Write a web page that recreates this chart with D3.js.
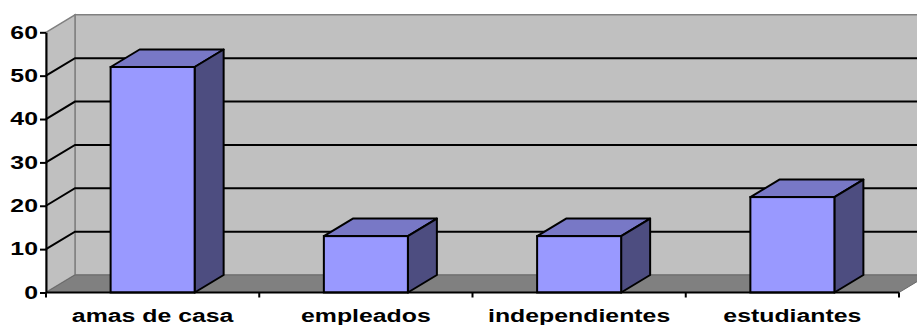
<!DOCTYPE html>
<html>
<head>
<meta charset="utf-8">
<script src="https://cdn.jsdelivr.net/npm/d3@7/dist/d3.min.js"></script>
<style>
  html, body { margin: 0; padding: 0; background: #ffffff; }
  svg { display: block; }
  text { font-family: "Liberation Sans", Arial, sans-serif; font-weight: bold; font-size: 18px; fill: #000; }
</style>
</head>
<body>
<svg id="chart" width="917" height="325"></svg>
<script>
// Ocupación de los encuestados (%)
const categories = ["amas de casa", "empleados", "independientes", "estudiantes"];
const values = [52, 13, 13, 22];
const yTicks = [0, 10, 20, 30, 40, 50, 60];

const svg = d3.select("#chart");

// Front plane of the 3-D box and the depth offset of the walls / bars
const plotLeft = 46, plotRight = 899, plotBottom = 292.5, plotTop = 32.3;
const dx = 29, dy = -17.5;
const textStretch = 1.38;   // wide bold lettering

const x = d3.scaleBand().domain(categories).range([plotLeft, plotRight]).padding(0);
const y = d3.scaleLinear().domain([0, 60]).range([plotBottom, plotTop]);
const barW = x.bandwidth() * 0.394;

const wallFill = "#c0c0c0", floorFill = "#808080", edge = "#808080";

// Back wall
svg.append("path")
  .attr("d", `M${plotLeft + dx},${y(60) + dy} L${plotRight + dx},${y(60) + dy} L${plotRight + dx},${y(0) + dy} L${plotLeft + dx},${y(0) + dy} Z`)
  .attr("fill", wallFill).attr("stroke", edge).attr("stroke-width", 1.5);

// Side wall
svg.append("path")
  .attr("d", `M${plotLeft},${y(60)} L${plotLeft + dx},${y(60) + dy} L${plotLeft + dx},${y(0) + dy} L${plotLeft},${y(0)} Z`)
  .attr("fill", wallFill).attr("stroke", edge).attr("stroke-width", 1.5);

// Floor
svg.append("path")
  .attr("d", `M${plotLeft},${y(0)} L${plotRight},${y(0)} L${plotRight + dx},${y(0) + dy} L${plotLeft + dx},${y(0) + dy} Z`)
  .attr("fill", floorFill).attr("stroke", "#6a6a6a").attr("stroke-width", 1);

// Gridlines: diagonal across the side wall, then straight along the back wall
const grid = yTicks.filter(t => t > 0 && t < 60);
svg.append("g").selectAll("path").data(grid).join("path")
  .attr("d", t => `M${plotLeft},${y(t)} L${plotLeft + dx},${y(t) + dy} L${plotRight + dx},${y(t) + dy}`)
  .attr("fill", "none").attr("stroke", "#000").attr("stroke-width", 2);

// Bars: top, side and front faces
const bars = svg.append("g").selectAll("g").data(categories.map((c, i) => ({ c, v: values[i] }))).join("g");
const bx = d => x(d.c) + (x.bandwidth() - barW) / 2;

bars.append("path") // top
  .attr("d", d => `M${bx(d)},${y(d.v)} L${bx(d) + dx},${y(d.v) + dy} L${bx(d) + barW + dx},${y(d.v) + dy} L${bx(d) + barW},${y(d.v)} Z`)
  .attr("fill", "#7878c6").attr("stroke", "#000").attr("stroke-width", 2).attr("stroke-linejoin", "round");
bars.append("path") // side
  .attr("d", d => `M${bx(d) + barW},${y(d.v)} L${bx(d) + barW + dx},${y(d.v) + dy} L${bx(d) + barW + dx},${y(0) + dy} L${bx(d) + barW},${y(0)} Z`)
  .attr("fill", "#4d4d80").attr("stroke", "#000").attr("stroke-width", 2).attr("stroke-linejoin", "round");
bars.append("rect") // front
  .attr("x", d => bx(d)).attr("y", d => y(d.v))
  .attr("width", barW).attr("height", d => y(0) - y(d.v))
  .attr("fill", "#9999ff").attr("stroke", "#000").attr("stroke-width", 2);

// Value axis
const yAxis = svg.append("g").attr("transform", `translate(${plotLeft},0)`)
  .call(d3.axisLeft(y).tickValues(yTicks).tickSize(6).tickSizeOuter(0));
yAxis.attr("font-family", null).attr("font-size", null);
yAxis.select(".domain").attr("stroke", "#000").attr("stroke-width", 2);
yAxis.selectAll(".tick line").attr("stroke", "#000").attr("stroke-width", 2);
yAxis.selectAll(".tick text")
  .attr("x", -8 / textStretch)
  .attr("transform", `scale(${textStretch},1)`);

// Category axis
const xAxis = svg.append("g").attr("transform", `translate(0,${y(0)})`)
  .call(d3.axisBottom(x).tickSize(0).tickSizeOuter(0));
xAxis.attr("font-family", null).attr("font-size", null);
xAxis.select(".domain").remove();
xAxis.selectAll(".tick").each(function () {
  // keep the label centred on its band while stretching it horizontally
  const g = d3.select(this);
  const cx = +g.attr("transform").match(/translate\(([-\d.]+)/)[1];
  g.attr("transform", `translate(${cx},0)`);
});
xAxis.selectAll(".tick text")
  .attr("y", 16.5).attr("dy", "0.71em")
  .attr("transform", `scale(${textStretch},1)`);

// Floor front edge and category boundary ticks
svg.append("line").attr("x1", plotLeft).attr("x2", plotRight).attr("y1", y(0)).attr("y2", y(0))
  .attr("stroke", "#000").attr("stroke-width", 2);
const bounds = categories.map(c => x(c)).concat([x(categories[categories.length - 1]) + x.bandwidth()]);
svg.append("g").selectAll("line").data(bounds).join("line")
  .attr("x1", d => d).attr("x2", d => d).attr("y1", y(0)).attr("y2", y(0) + 5)
  .attr("stroke", "#000").attr("stroke-width", 2);
</script>
</body>
</html>
